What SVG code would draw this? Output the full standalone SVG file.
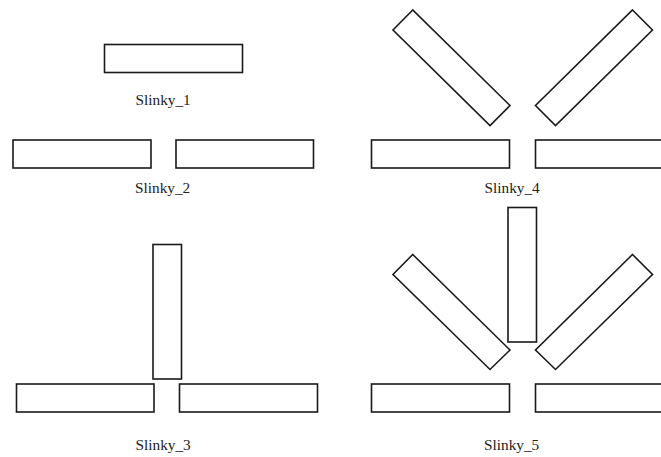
<svg xmlns="http://www.w3.org/2000/svg" width="661" height="457" viewBox="0 0 661 457">
<style>
.s{fill:#fff;stroke:#1a1a1a;stroke-width:1.6;stroke-linejoin:miter}
.t{font-family:"Liberation Serif","Times New Roman",serif;font-size:15.3px;fill:#222}
</style>
<rect width="661" height="457" fill="#fff"/>
<g id="slinky1">
<rect class="s" x="104.5" y="44.5" width="138" height="28"/>
<text class="t" x="135.5" y="105">Slinky_1</text>
</g>
<g id="slinky2">
<rect class="s" x="13" y="140" width="138" height="28"/>
<rect class="s" x="176" y="140" width="137.5" height="28"/>
<text class="t" x="135" y="193">Slinky_2</text>
</g>
<g id="slinky3">
<rect class="s" x="153" y="244.5" width="28.5" height="134.5"/>
<rect class="s" x="16.5" y="384" width="137.5" height="28"/>
<rect class="s" x="179.5" y="384" width="138" height="28"/>
<text class="t" x="135.5" y="449.5">Slinky_3</text>
</g>
<g id="slinky4">
<polygon class="s" points="412.7,10 393,30 490,125.5 510,105.5"/>
<polygon class="s" points="632.5,10 652.5,30 555.5,125.5 535.5,105.5"/>
<rect class="s" x="371.5" y="140" width="138" height="28"/>
<rect class="s" x="535.5" y="140" width="138" height="28"/>
<text class="t" x="484.5" y="193">Slinky_4</text>
</g>
<g id="slinky5">
<rect class="s" x="508" y="207.5" width="28.5" height="134.5"/>
<polygon class="s" points="412.7,254.5 393,274.5 490,369.5 510,350"/>
<polygon class="s" points="632.5,254.5 652.5,274.5 555.5,369.5 535.5,350"/>
<rect class="s" x="371.5" y="384" width="138" height="28"/>
<rect class="s" x="535.5" y="384" width="138" height="28"/>
<text class="t" x="484" y="450">Slinky_5</text>
</g>
<g id="connectors"/>
</svg>
